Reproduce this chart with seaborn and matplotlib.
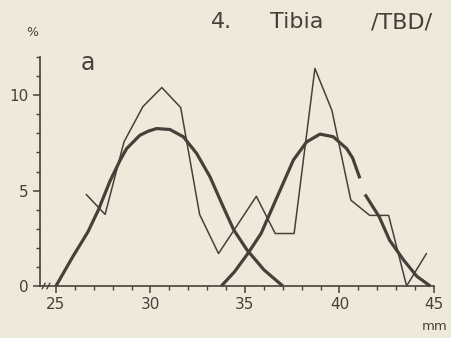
import numpy as np
import pandas as pd
import matplotlib
matplotlib.use("Agg")
import matplotlib.pyplot as plt
import seaborn as sns
from matplotlib.ticker import MultipleLocator

# ---- data ----
freq_x = [26.6, 27.6, 28.6, 29.6, 30.6, 31.6, 32.6, 33.6, 35.6, 36.6, 37.6,
          38.7, 39.6, 40.6, 41.6, 42.6, 43.55, 44.6]
freq_y = [4.8, 3.75, 7.55, 9.4, 10.4, 9.35, 3.75, 1.7, 4.7, 2.75, 2.75,
          11.4, 9.2, 4.5, 3.7, 3.7, 0.0, 1.7]

fit1_x = [25.0, 25.9, 26.7, 27.25, 27.86, 28.4, 28.74, 29.44, 29.9, 30.33, 31.03,
          31.74, 32.44, 33.15, 33.85, 34.4, 35.1, 36.0, 37.0]
fit1_y = [0.0, 1.55, 2.85, 4.0, 5.5, 6.6, 7.2, 7.9, 8.12, 8.25, 8.2,
          7.82, 6.95, 5.72, 4.15, 2.95, 1.9, 0.85, 0.0]

fit2a_x = [33.75, 34.45, 35.15, 35.85, 36.85, 37.56, 38.26, 38.97, 39.67,
           40.38, 40.7, 41.08]
fit2a_y = [0.0, 0.75, 1.7, 2.75, 5.0, 6.6, 7.55, 7.96, 7.82,
           7.2, 6.7, 5.64]
fit2b_x = [41.35, 42.1, 42.65, 43.4, 44.1, 44.8]
fit2b_y = [4.8, 3.63, 2.4, 1.35, 0.5, 0.0]

x_major = [25, 30, 35, 40, 45]
y_major = [0, 5, 10]
break_x = [24.35, 24.6]

ink = "#45413a"
paper = "#eeeadb"

sns.set_theme(style="white")
plt.rcParams["font.family"] = ["DejaVu Sans"]
plt.rcParams["axes.edgecolor"] = ink
plt.rcParams["xtick.color"] = ink
plt.rcParams["ytick.color"] = ink
plt.rcParams["text.color"] = ink

fig = plt.figure(figsize=(4.51, 3.38), dpi=100, facecolor=paper)
ax = fig.add_axes([39.5 / 451, 1 - 286 / 338, (434 - 39.5) / 451, (286 - 57) / 338])
ax.set_facecolor(paper)

df_freq = pd.DataFrame({"x": freq_x, "y": freq_y})
df_f1 = pd.DataFrame({"x": fit1_x, "y": fit1_y})
df_f2a = pd.DataFrame({"x": fit2a_x, "y": fit2a_y})
df_f2b = pd.DataFrame({"x": fit2b_x, "y": fit2b_y})

sns.lineplot(data=df_freq, x="x", y="y", ax=ax, color=ink, lw=1.1,
             sort=False, estimator=None, clip_on=False)
for d in (df_f1, df_f2a, df_f2b):
    sns.lineplot(data=d, x="x", y="y", ax=ax, color=ink, lw=2.3,
                 sort=False, estimator=None, clip_on=False,
                 solid_capstyle="butt", solid_joinstyle="round")

ax.set_xlim(24.13, 45)
ax.set_ylim(0, 12)
ax.set_xlabel("")
ax.set_ylabel("")
for s in ("top", "right"):
    ax.spines[s].set_visible(False)
for s in ("left", "bottom"):
    ax.spines[s].set_linewidth(1.2)
    ax.spines[s].set_color(ink)

ax.set_xticks(x_major)
ax.set_xticklabels([str(v) for v in x_major])
ax.set_yticks(y_major)
ax.set_yticklabels([str(v) for v in y_major])
ax.xaxis.set_minor_locator(MultipleLocator(1))
ax.yaxis.set_minor_locator(MultipleLocator(1))
ax.tick_params(axis="both", which="major", direction="out", length=5,
               width=1.1, labelsize=11, pad=3, color=ink, labelcolor=ink)
ax.tick_params(axis="both", which="minor", direction="out", length=3,
               width=1.0, color=ink)
ax.tick_params(axis="x", which="both", bottom=True)
ax.tick_params(axis="y", which="both", left=True)

# axis break marks
for bx in break_x:
    ax.plot([bx - 0.08, bx + 0.08], [-0.15, 0.15], color=ink, lw=1.0,
            clip_on=False)

# texts
ty = 1 - 28 / 338
fig.text(222 / 451, ty, "4.", fontsize=16, ha="center", va="baseline")
fig.text(297 / 451, ty, "Tibia", fontsize=16, ha="center", va="baseline")
fig.text(402 / 451, ty, "/TBD/", fontsize=16, ha="center", va="baseline")
fig.text(32 / 451, 1 - 32 / 338, "%", fontsize=9, ha="center", va="center")
fig.text(88 / 451, 1 - 63 / 338, "a", fontsize=17, ha="center", va="center")
fig.text(435 / 451, 1 - 327 / 338, "mm", fontsize=9.5, ha="center", va="center")

fig.savefig("out.png", dpi=100, facecolor=paper)
